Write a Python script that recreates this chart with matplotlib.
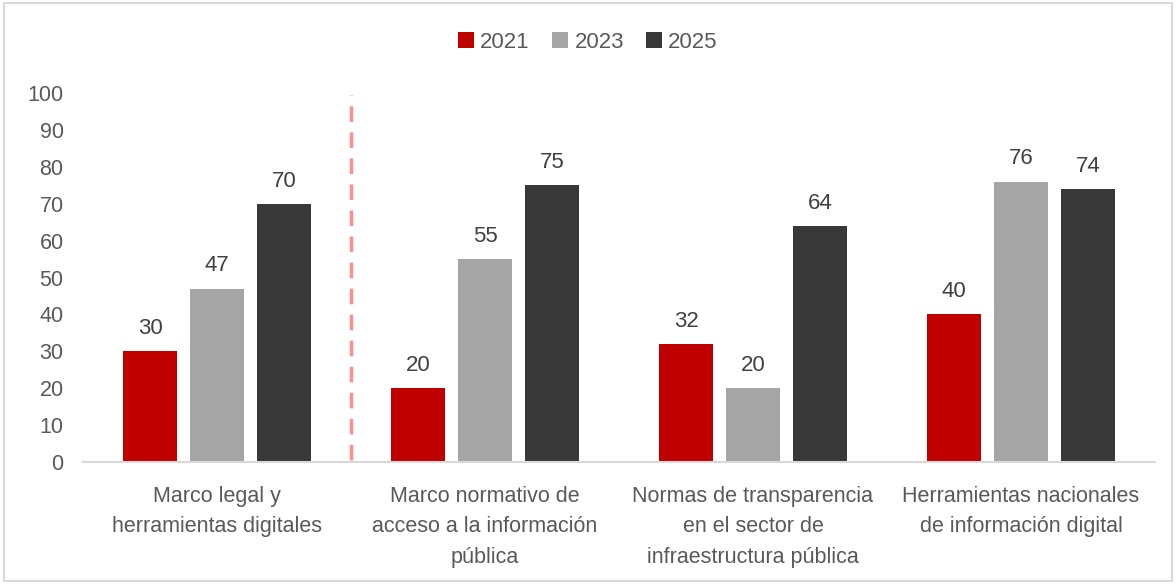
import numpy as np
import matplotlib.pyplot as plt
from matplotlib.patches import Rectangle

categories = ['Marco legal y\nherramientas digitales',
              'Marco normativo de\nacceso a la información\npública',
              'Normas de transparencia\nen el sector de\ninfraestructura pública',
              'Herramientas nacionales\nde información digital']
years = ['2021', '2023', '2025']
v2021 = [30, 20, 32, 40]
v2023 = [47, 55, 20, 76]
v2025 = [70, 75, 64, 74]
colors = ['#C00000', '#A5A5A5', '#383838']

plt.rcParams['font.family'] = ['Liberation Sans Narrow', 'Liberation Sans', 'DejaVu Sans']

fig = plt.figure(figsize=(11.76, 5.84), dpi=100)
ax = fig.add_axes([83 / 1176, 1 - 462 / 584, (1155 - 83) / 1176, (462 - 93) / 584])

x = np.arange(len(categories))
w = 0.2
for i, (vals, lab) in enumerate(zip([v2021, v2023, v2025], years)):
    bars = ax.bar(x + (i - 1) * 0.25, vals, w, color=colors[i], label=lab, zorder=2)
    for b, v in zip(bars, vals):
        ax.text(b.get_x() + b.get_width() / 2, v + 3.3, str(v), ha='center', va='bottom',
                fontsize=16, color='#404040')

ax.plot([0.5, 0.5], [0.5, 99.5], ls=(0, (4.5, 3)), color='#FF8F8F', lw=2.5, zorder=1,
        clip_on=False)

ax.set_xlim(-0.5, 3.5)
ax.set_ylim(0, 100)
ax.set_yticks(range(0, 101, 10))
ax.set_xticks(x)
ax.set_xticklabels(categories, fontsize=15.5, color='#595959', linespacing=1.6)
ax.tick_params(axis='y', labelsize=15.5, labelcolor='#595959', length=0, pad=14)
ax.tick_params(axis='x', length=0, pad=17)
for s in ['top', 'right', 'left']:
    ax.spines[s].set_visible(False)
ax.spines['bottom'].set_color('#D9D9D9')
ax.spines['bottom'].set_linewidth(1.5)

fig.legend(loc='center', bbox_to_anchor=(0.5, 1 - 42 / 584), ncol=3, frameon=False,
           fontsize=16, labelcolor='#595959', handlelength=0.7, handleheight=0.7,
           handletextpad=0.3, columnspacing=1.0)

fig.patches.append(Rectangle((4 / 1176, 3 / 584), 1 - 8 / 1176, 1 - 6 / 584,
                             transform=fig.transFigure, fill=False,
                             edgecolor='#D9D9D9', lw=1.5))

fig.savefig('out.png', dpi=100)
